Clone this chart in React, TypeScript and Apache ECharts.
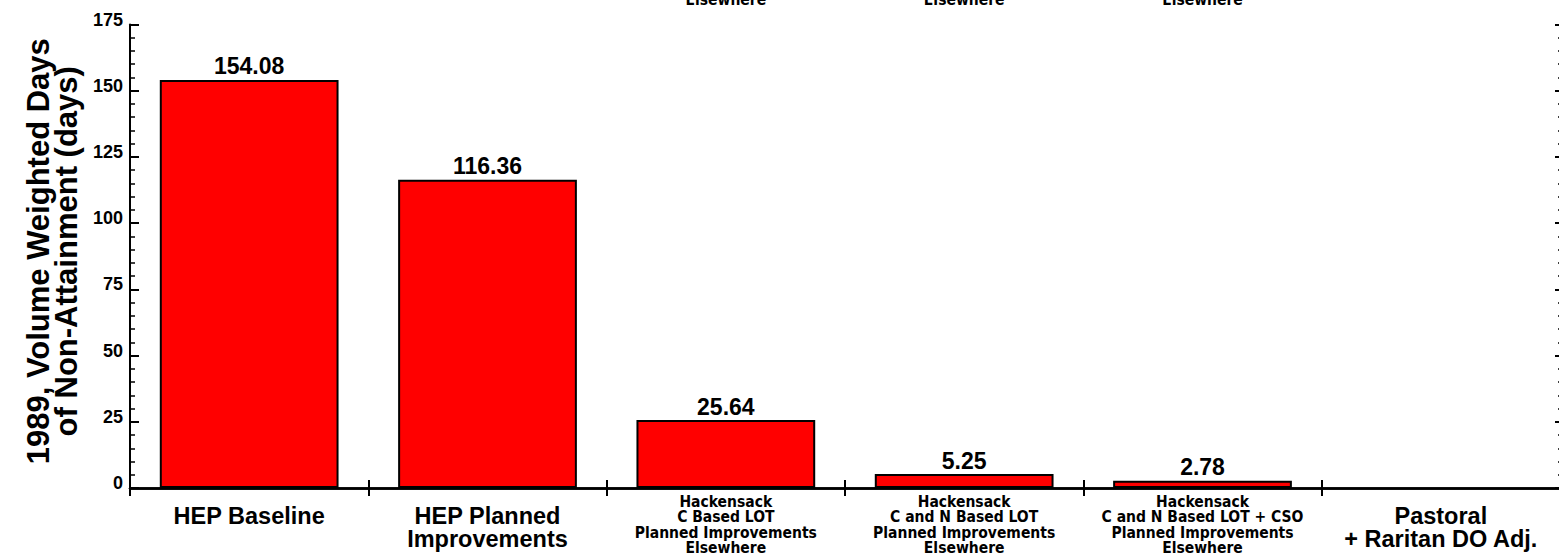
import React, { useEffect, useRef } from "react";
import * as echarts from "echarts";

const categories = [
  "HEP Baseline",
  "HEP Planned\nImprovements",
  "Hackensack\nC Based LOT\nPlanned Improvements\nElsewhere",
  "Hackensack\nC and N Based LOT\nPlanned Improvements\nElsewhere",
  "Hackensack\nC and N Based LOT + CSO\nPlanned Improvements\nElsewhere",
  "Pastoral\n+ Raritan DO Adj.",
];
const values: (number | null)[] = [154.08, 116.36, 25.64, 5.25, 2.78, null];
const smallLabelIdx = [2, 3, 4];
const topPeekLabel = "Elsewhere";
const yTitle = "1989, Volume Weighted Days\nof Non-Attainment (days)";

const SANS = "'Liberation Sans', Arial, Helvetica, sans-serif";
const NARROW = "'Liberation Sans Narrow', 'DejaVu Sans Condensed', 'Liberation Sans', sans-serif";

export default function App() {
  const ref = useRef<HTMLDivElement>(null);
  useEffect(() => {
    if (!ref.current) return;
    const chart = echarts.init(ref.current, null, { renderer: "svg" });
    const yAxisBase = {
      type: "value",
      min: 0,
      max: 175,
      interval: 25,
      splitLine: { show: false },
      axisLine: { show: true, lineStyle: { color: "#000", width: 2 } },
      axisTick: { show: true, inside: false, length: -9, lineStyle: { color: "#000", width: 2 } },
      minorTick: { show: true, splitNumber: 5, length: -5, lineStyle: { color: "#000", width: 1.5 } },
    };
    const xTick = { show: true, inside: false, length: -8, lineStyle: { color: "#000", width: 2 } };
    const smallStyle = { fontFamily: NARROW, fontWeight: "bold", fontSize: 15.5, lineHeight: 15.5, color: "#000" };
    chart.setOption({
      animation: false,
      backgroundColor: "#fff",
      grid: { left: 130, right: -1, top: 24.5, bottom: 70, containLabel: false, outerBoundsMode: "none" },
      xAxis: [
        {
          type: "category",
          data: categories,
          position: "bottom",
          axisLine: { lineStyle: { color: "#000", width: 2.5 } },
          axisTick: xTick,
          axisLabel: {
            interval: 0,
            margin: 6,
            color: "#000",
            formatter: (value: string, idx: number) => {
              const lines = value.split("\n");
              if (smallLabelIdx.includes(idx)) return lines.map((l) => `{s|${l}}`).join("\n");
              return ["{sp| }", ...lines.map((l) => `{b|${l}}`)].join("\n");
            },
            rich: {
              sp: { fontSize: 2, lineHeight: 10.5 },
              b: { fontFamily: SANS, fontWeight: "bold", fontSize: 23.5, lineHeight: 23, color: "#000" },
              s: smallStyle,
            },
          },
        },
        {
          type: "category",
          data: categories,
          position: "top",
          axisLine: { lineStyle: { color: "#000", width: 2.5 } },
          axisTick: xTick,
          axisLabel: {
            interval: 0,
            margin: 17,
            color: "#000",
            formatter: (_v: string, idx: number) => (smallLabelIdx.includes(idx) ? `{s|${topPeekLabel}}` : ""),
            rich: { s: smallStyle },
          },
        },
      ],
      yAxis: [
        {
          ...yAxisBase,
          position: "left",
          name: yTitle,
          nameLocation: "middle",
          nameGap: 46,
          nameRotate: 90,
          nameTextStyle: {
            fontFamily: SANS,
            fontWeight: "bold",
            fontSize: 31,
            lineHeight: 28,
            color: "#000",
            padding: [0, 0, 0, 10],
          },
          axisLabel: {
            color: "#000",
            fontFamily: SANS,
            fontWeight: "bold",
            fontSize: 18,
            margin: 7,
            verticalAlign: "bottom",
            lineHeight: 10,
          },
        },
        {
          ...yAxisBase,
          position: "right",
          axisLine: { show: false },
          axisTick: { show: true, inside: false, length: -5, lineStyle: { color: "#000", width: 2 } },
          minorTick: { show: true, splitNumber: 5, length: -2, lineStyle: { color: "#000", width: 1.5 } },
          axisLabel: { show: false },
        },
      ],
      series: [
        {
          type: "bar",
          data: values.map((v) => (v === null ? "-" : v)),
          barWidth: "75%",
          itemStyle: { color: "#ff0000", borderColor: "#000", borderWidth: 2 },
          label: {
            show: true,
            position: "top",
            distance: 2,
            color: "#000",
            fontFamily: SANS,
            fontWeight: "bold",
            fontSize: 23,
            formatter: (p: any) => (typeof p.value === "number" ? p.value.toFixed(2) : ""),
          },
        },
      ],
    });
    return () => chart.dispose();
  }, []);
  return (
    <div
      ref={ref}
      style={{ position: "fixed", left: 0, top: 0, width: 1559, height: 558, background: "#fff" }}
    />
  );
}
